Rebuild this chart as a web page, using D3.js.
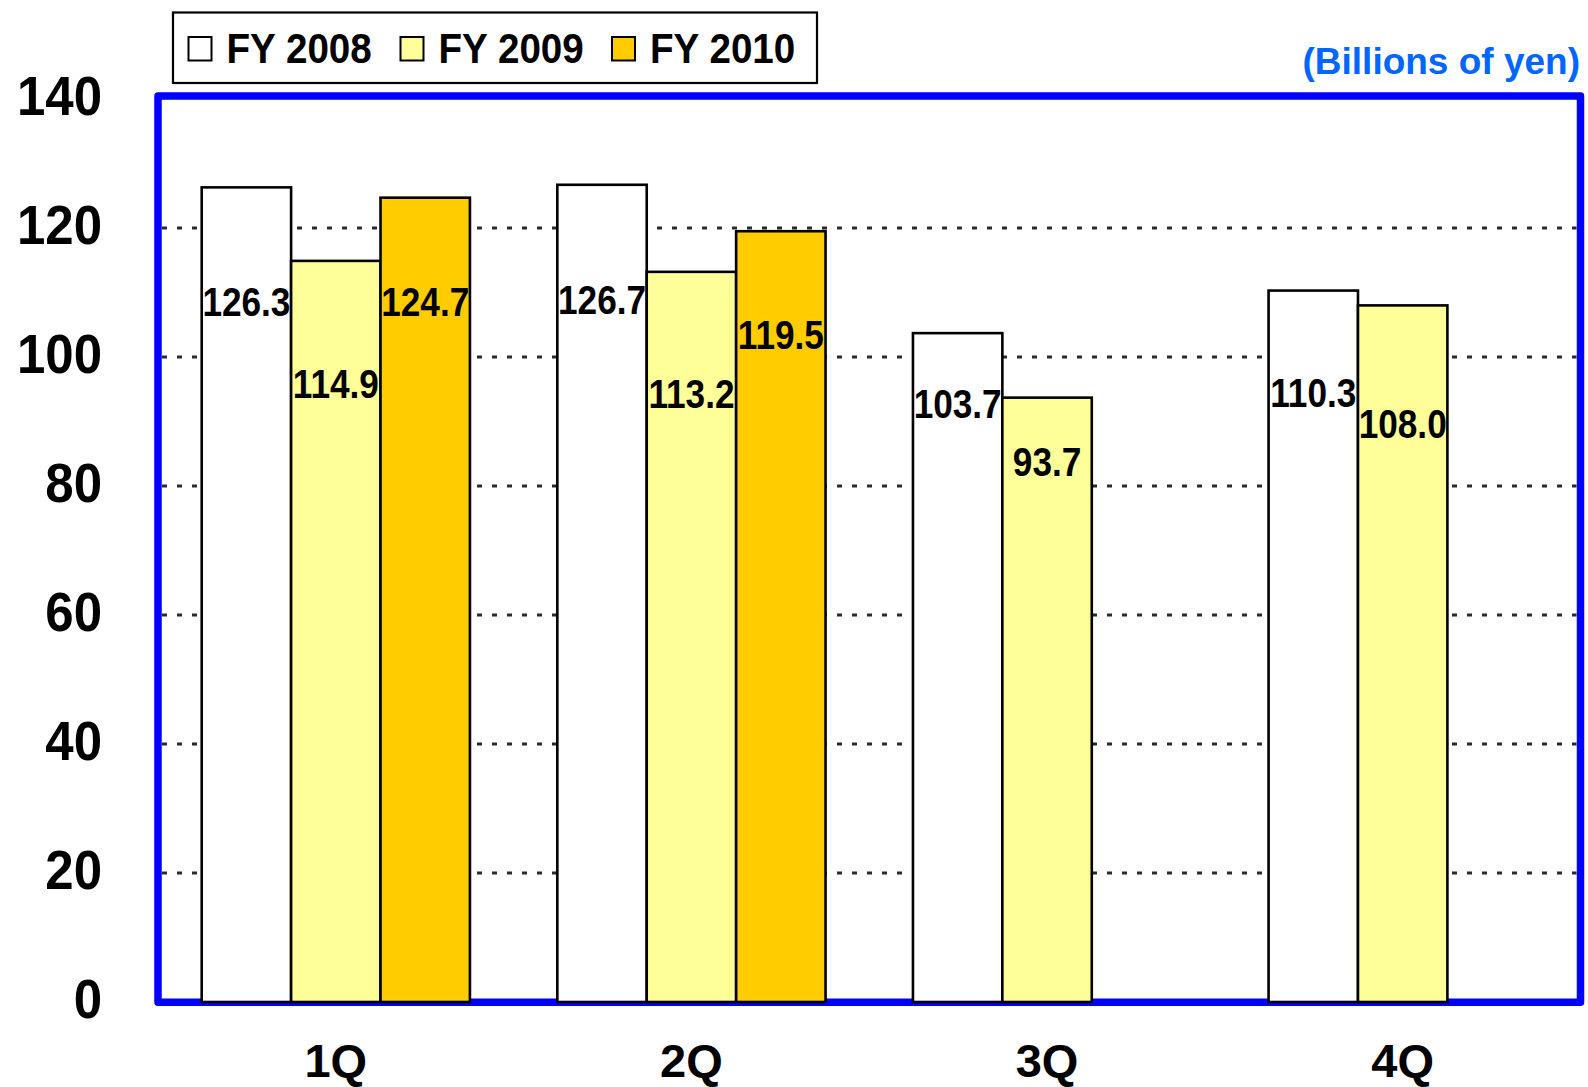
<!DOCTYPE html>
<html>
<head>
<meta charset="utf-8">
<script src="https://cdn.jsdelivr.net/npm/d3@7"></script>
<style>
  html, body { margin: 0; padding: 0; background: #fff; }
  svg { display: block; font-family: "Liberation Sans", Arial, sans-serif; font-weight: bold; }
</style>
</head>
<body>
<div id="chart"></div>
<script>
// data
var quarters = ["1Q", "2Q", "3Q", "4Q"];
var seriesNames = ["FY 2008", "FY 2009", "FY 2010"];
var fy2008 = [126.3, 126.7, 103.7, 110.3];
var fy2009 = [114.9, 113.2, 93.7, 108.0];
var fy2010 = [124.7, 119.5, null, null];
var yTicks = [0, 20, 40, 60, 80, 100, 120, 140];
var unitLabel = "(Billions of yen)";

// styling / layout
var colors = ["#ffffff", "#ffff99", "#ffcc00"];
// how far the value label sits below the bar top (px), per series / quarter
var labelDrop = [
	[115, 115, 71, 103],
	[123, 122, 65, 119],
	[105, 104, 0, 0]
];

var width = 1588, height = 1087;
var frame = {left: 158, right: 1580.5, top: 96, bottom: 1002.3};

var svg = d3.select("#chart")
	.append("svg")
	.attr("width", width)
	.attr("height", height);

var values = [fy2008, fy2009, fy2010];

var x0 = d3.scaleBand()
	.domain(quarters)
	.range([frame.left, frame.right]);

var x1 = d3.scaleBand()
	.domain(seriesNames)
	.range([43.7, x0.bandwidth() - 43.7]);

var y = d3.scaleLinear()
	.domain([0, 140])
	.range([1002, 99]);

// frame
svg.append("rect")
	.attr("x", frame.left)
	.attr("y", frame.top)
	.attr("width", frame.right - frame.left)
	.attr("height", frame.bottom - frame.top)
	.attr("fill", "none")
	.attr("stroke", "#0000ff")
	.attr("stroke-width", 7.5)
	.attr("stroke-linejoin", "round");

// dotted gridlines
svg.append("g")
	.selectAll("line")
	.data(yTicks.filter(function(t){ return t > 0 && t < 140; }))
	.enter()
	.append("line")
	.attr("x1", frame.left + 4)
	.attr("x2", frame.right - 4)
	.attr("y1", function(d){ return y(d); })
	.attr("y2", function(d){ return y(d); })
	.attr("stroke", "#2a2a2a")
	.attr("stroke-width", 3)
	.attr("stroke-dasharray", "5,10");

// y axis labels (squeezed a little horizontally, right edge at x=102)
var yAxis = d3.axisLeft(y)
	.tickValues(yTicks)
	.tickSize(0)
	.tickPadding(0);

var yG = svg.append("g")
	.attr("transform", "translate(102,-4) scale(0.91,1)")
	.call(yAxis);
yG.select(".domain").remove();
yG.selectAll("text")
	.attr("x", 0)
	.attr("dy", null)
	.attr("dominant-baseline", "central")
	.attr("font-size", 56)
	.attr("font-family", "Liberation Sans, Arial, sans-serif")
	.attr("font-weight", "bold")
	.attr("fill", "#000");

// x axis labels
var xAxis = d3.axisBottom(x0)
	.tickSize(0)
	.tickPadding(0);
var xG = svg.append("g")
	.attr("transform", "translate(0,1060)")
	.call(xAxis);
xG.select(".domain").remove();
xG.selectAll("text")
	.attr("y", 0)
	.attr("dy", null)
	.attr("dominant-baseline", "central")
	.attr("font-size", 47)
	.attr("font-family", "Liberation Sans, Arial, sans-serif")
	.attr("font-weight", "bold")
	.attr("fill", "#000");

// bars
var barData = [];
values.forEach(function(vals, s){
	vals.forEach(function(v, q){
		if (v !== null) barData.push({s: s, q: q, value: v});
	});
});

var barG = svg.append("g");

barG.selectAll(".bar")
	.data(barData)
	.enter()
	.append("rect")
	.attr("class", "bar")
	.attr("x", function(d){ return x0(quarters[d.q]) + x1(seriesNames[d.s]); })
	.attr("y", function(d){ return y(d.value); })
	.attr("width", x1.bandwidth())
	.attr("height", function(d){ return y(0) - y(d.value); })
	.attr("fill", function(d){ return colors[d.s]; })
	.attr("stroke", "#000")
	.attr("stroke-width", 2.6);

barG.selectAll(".val")
	.data(barData)
	.enter()
	.append("text")
	.attr("class", "val")
	.attr("transform", function(d){
		var cx = x0(quarters[d.q]) + x1(seriesNames[d.s]) + x1.bandwidth() / 2;
		var cy = y(d.value) + labelDrop[d.s][d.q];
		return "translate(" + cx + "," + cy + ") scale(0.88,1)";
	})
	.attr("text-anchor", "middle")
	.attr("dominant-baseline", "central")
	.attr("font-size", 40)
	.attr("fill", "#000")
	.text(function(d){ return d.value.toFixed(1); });

// legend
var legend = svg.append("g");
legend.append("rect")
	.attr("x", 173)
	.attr("y", 12.5)
	.attr("width", 644)
	.attr("height", 70.5)
	.attr("fill", "#fff")
	.attr("stroke", "#000")
	.attr("stroke-width", 2.2);

var legendX = [188.5, 400.5, 612];
var item = legend.selectAll(".item")
	.data(seriesNames)
	.enter()
	.append("g")
	.attr("class", "item")
	.attr("transform", function(d, i){ return "translate(" + legendX[i] + ",0)"; });

item.append("rect")
	.attr("x", 0)
	.attr("y", 37)
	.attr("width", 23)
	.attr("height", 23.5)
	.attr("fill", function(d, i){ return colors[i]; })
	.attr("stroke", "#000")
	.attr("stroke-width", 2);

item.append("text")
	.attr("transform", "translate(38,48.5) scale(0.92,1)")
	.attr("dominant-baseline", "central")
	.attr("font-size", 42)
	.attr("fill", "#000")
	.text(function(d){ return d; });

// unit label
svg.append("text")
	.attr("x", 1580)
	.attr("y", 61)
	.attr("text-anchor", "end")
	.attr("dominant-baseline", "central")
	.attr("font-size", 37)
	.attr("fill", "#0066ff")
	.text(unitLabel);
</script>
</body>
</html>
